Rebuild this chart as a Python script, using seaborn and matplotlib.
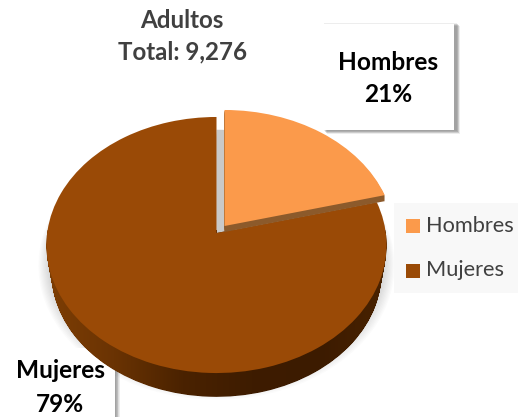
import numpy as np
import matplotlib
matplotlib.use("Agg")
import matplotlib.pyplot as plt
import seaborn as sns
from matplotlib.patches import Rectangle
from matplotlib.path import Path
from matplotlib.transforms import Transform
from matplotlib.colors import LinearSegmentedColormap

# Donnees
categories = ["Hombres", "Mujeres"]
valeurs = [21, 79]
titre = ["Adultos", "Total: 9,276"]

sns.set_theme(style="white")
plt.rcParams['font.family'] = ['Lato', 'DejaVu Sans']

palette = sns.color_palette(["#FB9A4B", "#9A4A06"])
W, H = 518, 417


class Perspective(Transform):
    # cercle unite -> ellipse vue en perspective, en pixels
    input_dims = output_dims = 2

    def __init__(self, dx=0, dy=0, s=1.0):
        super().__init__()
        self.dx, self.dy, self.s = dx, dy, s

    def transform_non_affine(self, xy):
        xy = np.asarray(xy)
        k = 1 + 0.0938 * xy[:, 1]
        x = 216.5 + self.dx + self.s * 169.3 * xy[:, 0] / k
        y = H - 233 - self.dy + self.s * 126.9 * xy[:, 1] / k
        return np.column_stack([x, y])

    def transform_path_non_affine(self, path):
        return Path(self.transform_non_affine(path.vertices), path.codes)


fig = plt.figure(figsize=(W / 100, H / 100), dpi=100)
ax = fig.add_axes([0, 0, 1, 1])


def camembert(couleurs, dx=0, dy=0, s=1.0, z=2, alpha=None):
    # dessine le camembert avec ax.pie puis applique la perspective
    wedges, _ = ax.pie(valeurs, startangle=90, counterclock=False, colors=couleurs,
                       wedgeprops=dict(linewidth=0, alpha=alpha))
    for w in wedges:
        w.set_transform(Perspective(dx, dy, s) + ax.transData)
        w.set_zorder(z)
    return wedges


# ombre floue autour du camembert
for i in range(16):
    camembert(["none", "black"], dy=14 + i * 0.4, s=0.95 + i * 0.0065, z=1, alpha=0.016)

# fond gris visible dans l'ecart entre les deux parts
camembert(["#C9C9C9", "none"], s=0.89, z=2)

# cote du camembert avec degrade
profondeurs = np.linspace(0, 28, 29)
chemins = []
for d in profondeurs:
    w = camembert(["none", "none"], z=0)[1]
    unite = w.get_patch_transform().transform_path(w.get_path())
    chemins.append(Perspective(0, d, 1 - 0.03 * d / 28).transform_path_non_affine(unite))
cote = Path.make_compound_path(*chemins)
cmap = LinearSegmentedColormap.from_list("cote", ["#7E3E04", "#6A3303", "#4A2200", "#3E1C00", "#3C1B00", "#4A2300"])
grad = np.linspace(0, 1, 256).reshape(1, -1)
im = ax.imshow(grad, extent=(45, 390, H - 400, H - 230), cmap=cmap, aspect="auto", zorder=3)
im.set_clip_path(cote, transform=ax.transData)

# dessus : Mujeres, puis Hombres decale avec sa tranche
camembert(["none", palette[1]], z=4)
for d in range(1, 7):
    camembert(["#8C5A2B", "none"], dx=8, dy=-7 + d, z=5)
camembert([palette[0], "none"], dx=8, dy=-7, z=6)


def boite(x0, y0, x1, y1, z=7):
    # boite blanche avec ombre portee
    for i in range(6):
        ax.add_patch(Rectangle((x0 + 1 + i * 0.5, H - y1 - 1 - i * 0.5), x1 - x0 + 2, y1 - y0 + 2,
                               facecolor="black", alpha=0.07, linewidth=0, zorder=z))
    ax.add_patch(Rectangle((x0, H - y1), x1 - x0, y1 - y0, facecolor="white", linewidth=0, zorder=z + 0.5))


boite(323, 24, 454, 130)

# etiquette Mujeres : le cadre passe sous le bord du camembert
for i in range(6):
    ax.add_patch(Rectangle((13, -5), 103 + i * 0.8, H - 351 + 5, facecolor="black", alpha=0.07,
                           linewidth=0, zorder=2))
ax.add_patch(Rectangle((8, -5), 107, H - 348 + 5, facecolor="white", linewidth=0, zorder=2.5))

# titre
for ligne, y in zip(titre, [20, 52]):
    ax.text(182, H - y, ligne, ha="center", va="center", fontsize=17.4, fontweight="bold",
            color="#404040", zorder=9)

# etiquettes de donnees
ax.text(388.5, H - 62, categories[0], ha="center", va="center", fontsize=17.6, fontweight="bold",
        color="black", zorder=9)
ax.text(388.5, H - 94, f"{valeurs[0]}%", ha="center", va="center", fontsize=17.6, fontweight="bold",
        color="black", zorder=9)
ax.text(60, H - 371, categories[1], ha="center", va="center", fontsize=17.6, fontweight="bold",
        color="black", zorder=9)
ax.text(60, H - 404, f"{valeurs[1]}%", ha="center", va="center", fontsize=17.6, fontweight="bold",
        color="black", zorder=9)

# legende
ax.add_patch(Rectangle((394, H - 293), W - 394, 90, facecolor="#F8F8F8", linewidth=0, zorder=7))
for cat, coul, y in zip(categories, palette, [225.5, 270.5]):
    ax.add_patch(Rectangle((406, H - y - 7), 14, 14, facecolor=coul, linewidth=0, zorder=8))
    ax.text(425.5, H - y, cat, ha="left", va="center", fontsize=15.7, color="#404040", zorder=9)

ax.set_xlim(0, W)
ax.set_ylim(0, H)
ax.set_aspect("auto")
ax.axis("off")

fig.savefig("out.png", dpi=100)
